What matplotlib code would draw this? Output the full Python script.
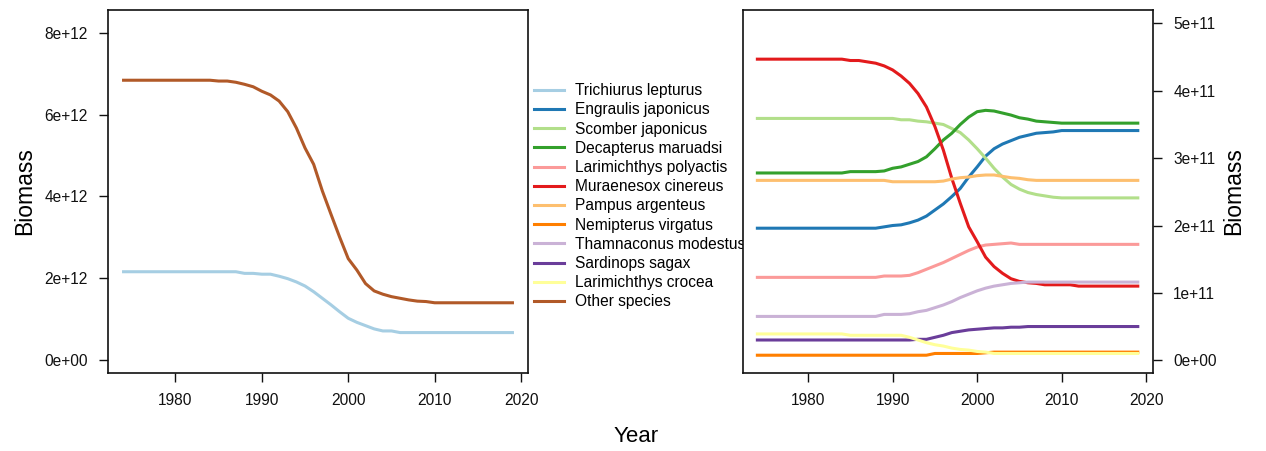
import numpy as np
import matplotlib
matplotlib.use("Agg")
import matplotlib.pyplot as plt

plt.rcParams['font.family'] = ['Liberation Sans', 'DejaVu Sans']

years = np.arange(1974, 2020)

# biomass, 1e12 (left panel)
trichiurus = [2.15] * 14 + [2.11, 2.11, 2.09, 2.09, 2.04, 1.98, 1.90, 1.80, 1.66, 1.50,
                            1.34, 1.17, 1.01, 0.91, 0.83, 0.75, 0.70, 0.70] + [0.66] * 14
other = [6.84] * 11 + [6.82, 6.82, 6.79, 6.74, 6.68, 6.57, 6.48, 6.33, 6.07, 5.67, 5.18,
                       4.78, 4.13, 3.56, 3.00, 2.47, 2.19, 1.86, 1.68, 1.60, 1.54, 1.50,
                       1.46, 1.43, 1.42] + [1.39] * 10

# biomass, 1e11 (right panel)
engraulis = [1.96] * 15 + [1.98, 2.00, 2.01, 2.04, 2.08, 2.14, 2.23, 2.32, 2.43, 2.55, 2.72,
                           2.87, 3.03, 3.14, 3.21, 3.26, 3.31, 3.34, 3.37, 3.38, 3.39] + [3.41] * 10
scomber = [3.59] * 17 + [3.57, 3.57, 3.55, 3.54, 3.52, 3.50, 3.44, 3.38, 3.27, 3.14, 3.00,
                         2.85, 2.72, 2.61, 2.54, 2.49, 2.46, 2.44, 2.42] + [2.41] * 10
decapterus = [2.78] * 11 + [2.80, 2.80, 2.80, 2.80, 2.81, 2.85, 2.87, 2.91, 2.95, 3.02, 3.14,
                            3.27, 3.37, 3.50, 3.61, 3.69, 3.71, 3.70, 3.67, 3.64, 3.60, 3.58,
                            3.55, 3.54, 3.53] + [3.52] * 10
polyactis = [1.23] * 15 + [1.25, 1.25, 1.25, 1.26, 1.30, 1.35, 1.40, 1.45, 1.51, 1.57, 1.63,
                           1.68, 1.71, 1.72, 1.73, 1.74] + [1.72] * 15
muraenesox = [4.47] * 11 + [4.45, 4.45, 4.43, 4.41, 4.37, 4.31, 4.22, 4.11, 3.96, 3.76, 3.47,
                            3.12, 2.70, 2.33, 1.98, 1.76, 1.53, 1.39, 1.29, 1.21, 1.17, 1.15,
                            1.14, 1.12, 1.12, 1.12, 1.12] + [1.10] * 8
pampus = [2.67] * 16 + [2.65] * 6 + [2.66, 2.69, 2.71, 2.72, 2.74, 2.75, 2.75, 2.73, 2.71,
                                     2.70, 2.68] + [2.67] * 13
nemipterus = [0.074] * 21 + [0.10] * 6 + [0.11] + [0.12] * 18
thamnaconus = [0.65] * 15 + [0.68, 0.68, 0.68, 0.69, 0.72, 0.74, 0.78, 0.82, 0.87, 0.93, 0.98,
                             1.03, 1.07, 1.10, 1.12, 1.14, 1.15] + [1.16] * 14
sardinops = [0.30] * 19 + [0.31, 0.31, 0.34, 0.37, 0.41, 0.43, 0.45, 0.46, 0.47, 0.48, 0.48,
                           0.49, 0.49] + [0.50] * 14
crocea = [0.39] * 11 + [0.37] * 7 + [0.34, 0.30, 0.26, 0.23, 0.21, 0.18, 0.16, 0.15, 0.13,
                                     0.12] + [0.10] * 18

names = ["Trichiurus lepturus", "Engraulis japonicus", "Scomber japonicus",
         "Decapterus maruadsi", "Larimichthys polyactis", "Muraenesox cinereus",
         "Pampus argenteus", "Nemipterus virgatus", "Thamnaconus modestus",
         "Sardinops sagax", "Larimichthys crocea", "Other species"]
colors = ["#A6CEE3", "#1F78B4", "#B2DF8A", "#33A02C", "#FB9A99", "#E31A1C",
          "#FDBF6F", "#FF7F00", "#CAB2D6", "#6A3D9A", "#FFFF99", "#B15928"]

left_series = {0: trichiurus, 11: other}
right_series = {1: engraulis, 2: scomber, 3: decapterus, 4: polyactis, 5: muraenesox,
                6: pampus, 7: nemipterus, 8: thamnaconus, 9: sardinops, 10: crocea}

fig = plt.figure(figsize=(12.66, 4.51), dpi=100)
ax1 = fig.add_axes([108 / 1266, 1 - 373 / 451, 420 / 1266, 363 / 451])
ax2 = fig.add_axes([743 / 1266, 1 - 373 / 451, 410 / 1266, 363 / 451])

handles = {}
for i, vals in left_series.items():
    handles[i], = ax1.plot(years, np.array(vals) * 1e12, color=colors[i], lw=2.2)
for i, vals in right_series.items():
    handles[i], = ax2.plot(years, np.array(vals) * 1e11, color=colors[i], lw=2.2)

ax1.set_xlim(1972.2, 2020.8)
ax1.set_ylim(-0.33e12, 8.56e12)
ax1.set_yticks([0, 2e12, 4e12, 6e12, 8e12])
ax1.set_yticklabels(["0e+00", "2e+12", "4e+12", "6e+12", "8e+12"])
ax1.set_ylabel("Biomass", fontsize=16.5)
ax1.yaxis.set_label_coords(-0.172, 0.5)

ax2.set_xlim(1972.3, 2020.8)
ax2.set_ylim(-0.19e11, 5.2e11)
ax2.set_yticks([0, 1e11, 2e11, 3e11, 4e11, 5e11])
ax2.set_yticklabels(["0e+00", "1e+11", "2e+11", "3e+11", "4e+11", "5e+11"])
ax2.yaxis.tick_right()
ax2.yaxis.set_label_position("right")
ax2.set_ylabel("Biomass", fontsize=16.5)
ax2.yaxis.set_label_coords(1.168, 0.5)

for ax in (ax1, ax2):
    ax.set_xticks([1980, 1990, 2000, 2010, 2020])
    ax.tick_params(axis='both', labelsize=11.2, length=6.5, width=1, pad=8, colors='#111111')
    for sp in ax.spines.values():
        sp.set_linewidth(1.2)
        sp.set_color('#111111')
    ax.set_facecolor('white')

fig.text(636 / 1266, 1 - 437 / 451, "Year", fontsize=16, ha='center', va='center')

leg = fig.legend([handles[i] for i in range(12)], names, loc='upper left',
                 bbox_to_anchor=(528 / 1266, 1 - 77 / 451), frameon=False,
                 fontsize=11.2, handlelength=1.9, handletextpad=0.7, labelspacing=0.27,
                 borderaxespad=0)
leg.set_zorder(-1)

fig.savefig("out.png", dpi=100)
